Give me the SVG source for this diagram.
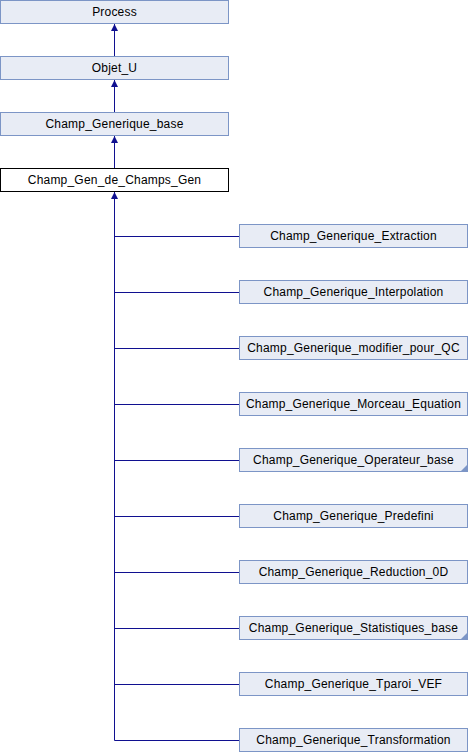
<svg xmlns="http://www.w3.org/2000/svg" width="468" height="752" viewBox="0 0 468 752">
<defs>
<style>
.n rect{fill:#E8ECF5;stroke:#7C95C6;stroke-width:1}
.n.cur rect{fill:#FFFFFF;stroke:#000000}
.n text{font-family:"Liberation Sans",Arial,sans-serif;font-size:12px;letter-spacing:0.2px;fill:#000;text-anchor:middle}
.e{fill:none;stroke:#101090;stroke-width:1}
.corner{fill:#7C95C6}
</style>
<marker id="ah" markerWidth="8" markerHeight="8" refX="7" refY="3.5" orient="auto" markerUnits="userSpaceOnUse">
<path d="M0,0 L7,3.5 L0,7 Z" fill="#101090"/>
</marker>
</defs>
<rect width="468" height="752" fill="#fff"/>
<g id="connectors">
<path class="e" d="M114.5,56 V24" marker-end="url(#ah)"/>
<path class="e" d="M114.5,112 V80" marker-end="url(#ah)"/>
<path class="e" d="M114.5,168 V136" marker-end="url(#ah)"/>
<path class="e" d="M114.5,740.5 V192" marker-end="url(#ah)"/>
<path class="e" d="M114.5,236.5 H239 M114.5,292.5 H239 M114.5,348.5 H239 M114.5,404.5 H239 M114.5,460.5 H239 M114.5,516.5 H239 M114.5,572.5 H239 M114.5,628.5 H239 M114.5,684.5 H239 M114.5,740.5 H239"/>
</g>
<g id="Process" class="n"><rect x="0.5" y="0.5" width="228" height="23"/><text x="114.5" y="15.5">Process</text></g>
<g id="Objet_U" class="n"><rect x="0.5" y="56.5" width="228" height="23"/><text x="114.5" y="71.5">Objet_U</text></g>
<g id="Champ_Generique_base" class="n"><rect x="0.5" y="112.5" width="228" height="23"/><text x="114.5" y="127.5">Champ_Generique_base</text></g>
<g id="Champ_Gen_de_Champs_Gen" class="n cur"><rect x="0.5" y="168.5" width="228" height="23"/><text x="114.5" y="183.5">Champ_Gen_de_Champs_Gen</text></g>
<g id="Champ_Generique_Extraction" class="n"><rect x="239.5" y="224.5" width="228" height="23"/><text x="353.5" y="239.5">Champ_Generique_Extraction</text></g>
<g id="Champ_Generique_Interpolation" class="n"><rect x="239.5" y="280.5" width="228" height="23"/><text x="353.5" y="295.5">Champ_Generique_Interpolation</text></g>
<g id="Champ_Generique_modifier_pour_QC" class="n"><rect x="239.5" y="336.5" width="228" height="23"/><text x="353.5" y="351.5">Champ_Generique_modifier_pour_QC</text></g>
<g id="Champ_Generique_Morceau_Equation" class="n"><rect x="239.5" y="392.5" width="228" height="23"/><text x="353.5" y="407.5">Champ_Generique_Morceau_Equation</text></g>
<g id="Champ_Generique_Operateur_base" class="n"><rect x="239.5" y="448.5" width="228" height="23"/><path class="corner" d="M461,471 L467,471 L467,465 Z"/><text x="353.5" y="463.5">Champ_Generique_Operateur_base</text></g>
<g id="Champ_Generique_Predefini" class="n"><rect x="239.5" y="504.5" width="228" height="23"/><text x="353.5" y="519.5">Champ_Generique_Predefini</text></g>
<g id="Champ_Generique_Reduction_0D" class="n"><rect x="239.5" y="560.5" width="228" height="23"/><text x="353.5" y="575.5">Champ_Generique_Reduction_0D</text></g>
<g id="Champ_Generique_Statistiques_base" class="n"><rect x="239.5" y="616.5" width="228" height="23"/><path class="corner" d="M461,639 L467,639 L467,633 Z"/><text x="353.5" y="631.5">Champ_Generique_Statistiques_base</text></g>
<g id="Champ_Generique_Tparoi_VEF" class="n"><rect x="239.5" y="672.5" width="228" height="23"/><text x="353.5" y="687.5">Champ_Generique_Tparoi_VEF</text></g>
<g id="Champ_Generique_Transformation" class="n"><rect x="239.5" y="728.5" width="228" height="23"/><text x="353.5" y="743.5">Champ_Generique_Transformation</text></g>
</svg>
